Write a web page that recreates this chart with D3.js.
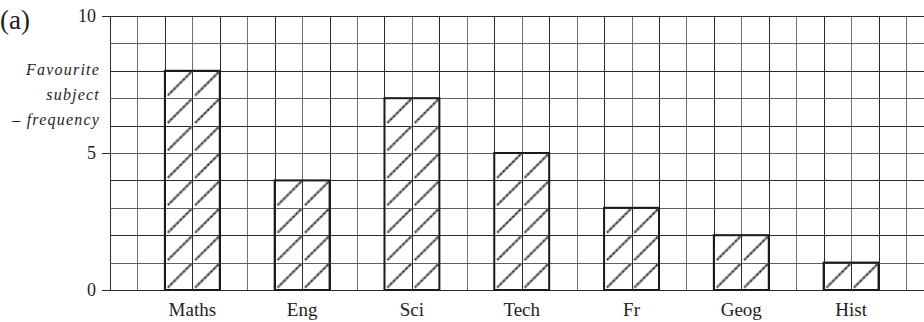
<!DOCTYPE html>
<html>
<head>
<meta charset="utf-8">
<script src="https://cdn.jsdelivr.net/npm/d3@7"></script>
<style>
  body { margin: 0; background: #fff; }
  svg { display: block; }
  text { font-family: "Liberation Serif", "Times New Roman", serif; fill: #1e1e1e; }
</style>
</head>
<body>
<svg id="chart" width="924" height="322"></svg>
<script>
// Chart data.
const subjects = ["Maths", "Eng", "Sci", "Tech", "Fr", "Geog", "Hist"];
const frequencies = [8, 4, 7, 5, 3, 2, 1];
const yTicks = [0, 5, 10];
const yLabelLines = ["Favourite", "subject", "\u2013 frequency"];

const width = 924;
const height = 322;
const svg = d3.select("#chart");

// Square grid: 29 columns, 10 rows.
const nCols = 29;
const x = d3.scaleLinear().domain([0, nCols]).range([110, 906]);
const y = d3.scaleLinear().domain([0, 10]).range([290, 16]);

// One bar every 4 cells, two cells wide, starting on the third column.
const band = d3.scaleBand()
  .domain(subjects)
  .range([x(1), x(29)])
  .paddingInner(0.5)
  .paddingOuter(0.25);

// Hatching pattern aligned with the grid cells.
const cell = x(1) - x(0);
const defs = svg.append("defs");
const pat = defs.append("pattern")
  .attr("id", "hatch")
  .attr("patternUnits", "userSpaceOnUse")
  .attr("x", x(0))
  .attr("y", y(10))
  .attr("width", cell)
  .attr("height", cell);
// Diagonal strokes, slightly shifted up from the cell corners.
[[-cell, cell, 0, 0], [0, cell, cell, 0], [cell, cell, 2 * cell, 0]].forEach(([x1, y1, x2, y2]) => {
  pat.append("line")
    .attr("x1", x1 + 3).attr("y1", y1 - 3)
    .attr("x2", x2 + 3).attr("y2", y2 - 3)
    .attr("stroke", "#7a7a7a")
    .attr("stroke-width", 2.4);
  pat.append("line")
    .attr("x1", x1 + 3).attr("y1", y1 - 3)
    .attr("x2", x2 + 3).attr("y2", y2 - 3)
    .attr("stroke", "#111")
    .attr("stroke-width", 1.6)
    .attr("stroke-dasharray", "1.2,3.2");
});

// Grid.
const grid = svg.append("g").attr("stroke-width", 1);
grid.selectAll(".v")
  .data(d3.range(0, nCols + 1))
  .enter().append("line")
  .attr("x1", d => Math.round(x(d)) + 0.5)
  .attr("x2", d => Math.round(x(d)) + 0.5)
  .attr("y1", y(10))
  .attr("y2", y(0))
  .attr("stroke", (d, i) => i % 2 ? "#707070" : "#2a2a2a");
grid.selectAll(".h")
  .data(d3.range(0, 11))
  .enter().append("line")
  .attr("x1", x(0))
  .attr("x2", width)
  .attr("y1", d => Math.round(y(d)) + 0.5)
  .attr("y2", d => Math.round(y(d)) + 0.5)
  .attr("stroke", (d, i) => i % 2 ? "#606060" : "#2a2a2a");

// Y axis ticks and labels.
const yAxis = svg.append("g")
  .attr("transform", `translate(${x(0)},0)`)
  .call(d3.axisLeft(y).tickValues(yTicks).tickSize(8).tickPadding(6));
yAxis.select(".domain").remove();
yAxis.selectAll("line").attr("stroke", "#2a2a2a");
yAxis.selectAll("text")
  .attr("fill", "#1e1e1e")
  .style("font-family", "'Liberation Serif', serif")
  .style("font-size", "18px");

// Bars.
svg.append("g").selectAll("rect")
  .data(subjects)
  .enter().append("rect")
  .attr("x", d => band(d))
  .attr("width", band.bandwidth())
  .attr("y", (d, i) => y(frequencies[i]))
  .attr("height", (d, i) => y(0) - y(frequencies[i]))
  .attr("fill", "url(#hatch)")
  .attr("stroke", "#1a1a1a")
  .attr("stroke-width", 2);

// Grid lines show through the bars.
svg.append("g").selectAll("line")
  .data(subjects)
  .enter().append("line")
  .attr("x1", d => Math.round(band(d) + band.bandwidth() / 2) + 0.5)
  .attr("x2", d => Math.round(band(d) + band.bandwidth() / 2) + 0.5)
  .attr("y1", (d, i) => y(frequencies[i]))
  .attr("y2", y(0))
  .attr("stroke", "#2a2a2a")
  .attr("stroke-width", 1);

// Category labels.
svg.append("g").selectAll("text")
  .data(subjects)
  .enter().append("text")
  .attr("x", d => band(d) + band.bandwidth() / 2)
  .attr("y", 316)
  .attr("text-anchor", "middle")
  .style("font-size", "19px")
  .text(d => d);

// Panel label.
svg.append("text")
  .attr("x", 0)
  .attr("y", 29)
  .style("font-size", "27px")
  .text("(a)");

// Y axis title.
svg.append("g").selectAll("text")
  .data(yLabelLines)
  .enter().append("text")
  .attr("x", 100)
  .attr("y", (d, i) => 75 + i * 25)
  .attr("text-anchor", "end")
  .style("font-size", "16px")
  .style("font-style", "italic")
  .style("letter-spacing", "1.2px")
  .text(d => d);
</script>
</body>
</html>
